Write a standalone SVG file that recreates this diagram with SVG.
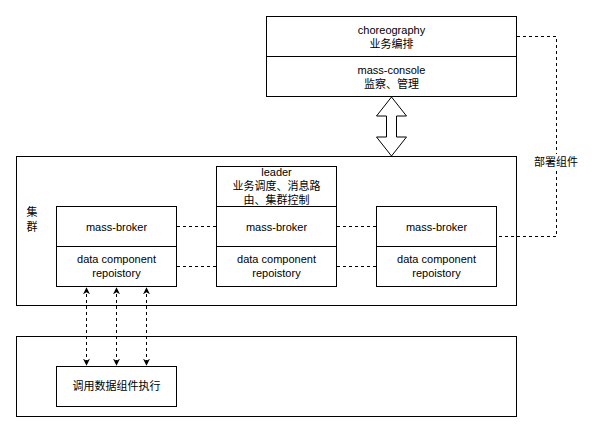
<svg xmlns="http://www.w3.org/2000/svg" width="595" height="433" viewBox="0 0 595 433">
<defs>
<style>
.b{fill:#fff;stroke:#000;stroke-width:1}
.t{font-family:"Liberation Sans","Noto Sans CJK SC",sans-serif;font-size:11px;fill:#000;text-anchor:middle}
.d{fill:none;stroke:#000;stroke-width:1;stroke-dasharray:3 3}
</style>
<marker id="ah" viewBox="0 0 10 10" refX="9" refY="5" markerWidth="7" markerHeight="7" orient="auto-start-reverse" markerUnits="userSpaceOnUse">
<path d="M0,0 L10,5 L0,10 L3,5 Z" fill="#000"/>
</marker>
</defs>
<rect x="0" y="0" width="595" height="433" fill="#fff"/>
<g id="cluster">
<rect class="b" x="16.5" y="156.5" width="500" height="149"/>
<text class="t" x="32" y="216">集</text>
<text class="t" x="32" y="231">群</text>
</g>
<g id="bottom">
<rect class="b" x="16.5" y="336.5" width="500" height="80"/>
</g>
<g id="console">
<rect class="b" x="266.5" y="16.5" width="250" height="40"/>
<text class="t" x="391.5" y="34">choreography</text>
<text class="t" x="391.5" y="48">业务编排</text>
<rect class="b" x="266.5" y="56.5" width="250" height="40"/>
<text class="t" x="391.5" y="74">mass-console</text>
<text class="t" x="391.5" y="88">监察、管理</text>
</g>
<g id="leader">
<rect class="b" x="216.5" y="166.5" width="120" height="40"/>
<text class="t" x="276.5" y="176">leader</text>
<text class="t" x="276.5" y="190">业务调度、消息路</text>
<text class="t" x="276.5" y="204">由、集群控制</text>
</g>
<g id="broker1">
<rect class="b" x="56.5" y="206.5" width="120" height="40"/>
<text class="t" x="116.5" y="231">mass-broker</text>
<rect class="b" x="56.5" y="246.5" width="120" height="40"/>
<text class="t" x="116.5" y="263">data component</text>
<text class="t" x="116.5" y="277">repoistory</text>
</g>
<g id="broker2">
<rect class="b" x="216.5" y="206.5" width="120" height="40"/>
<text class="t" x="276.5" y="231">mass-broker</text>
<rect class="b" x="216.5" y="246.5" width="120" height="40"/>
<text class="t" x="276.5" y="263">data component</text>
<text class="t" x="276.5" y="277">repoistory</text>
</g>
<g id="broker3">
<rect class="b" x="376.5" y="206.5" width="120" height="40"/>
<text class="t" x="436.5" y="231">mass-broker</text>
<rect class="b" x="376.5" y="246.5" width="120" height="40"/>
<text class="t" x="436.5" y="263">data component</text>
<text class="t" x="436.5" y="277">repoistory</text>
</g>
<g id="executor">
<rect class="b" x="56.5" y="366.5" width="120" height="40"/>
<text class="t" x="116.5" y="390">调用数据组件执行</text>
</g>
<g id="connectors">
<path d="M391.5,97 L406.5,116 L396.5,116 L396.5,137 L406.5,137 L391.5,156 L376.5,137 L386.5,137 L386.5,116 L376.5,116 Z" fill="#fff" stroke="#000" stroke-width="1"/>
<path class="d" d="M177,226.5 L216,226.5"/>
<path class="d" d="M337,226.5 L376,226.5"/>
<path class="d" d="M177,266.5 L216,266.5"/>
<path class="d" d="M337,266.5 L376,266.5"/>
<path class="d" d="M517,36.5 L556.5,36.5 L556.5,236.5 L497,236.5"/>
<rect x="532" y="154" width="48" height="16" fill="#fff"/>
<text class="t" x="556" y="166">部署组件</text>
<path class="d" d="M86.5,288 L86.5,365" marker-start="url(#ah)" marker-end="url(#ah)"/>
<path class="d" d="M116.5,288 L116.5,365" marker-start="url(#ah)" marker-end="url(#ah)"/>
<path class="d" d="M146.5,288 L146.5,365" marker-start="url(#ah)" marker-end="url(#ah)"/>
</g>
</svg>
